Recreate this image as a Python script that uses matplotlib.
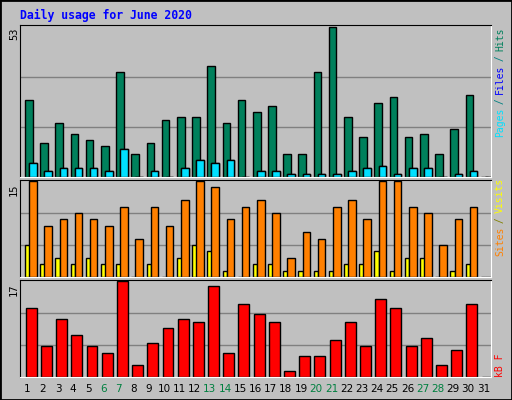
import numpy as np
from matplotlib import pyplot as plt
from matplotlib.patches import Rectangle

days = np.arange(1, 32)
hits = [27, 12, 19, 15, 13, 11, 37, 8, 12, 20, 21, 21, 39, 19, 27, 23, 25, 8, 8, 37,
        53, 21, 14, 26, 28, 14, 15, 8, 17, 29, 0]
files = [5, 2, 3, 3, 3, 2, 10, 0, 2, 0, 3, 6, 5, 6, 0, 2, 2, 1, 1, 1,
         1, 2, 3, 4, 1, 3, 3, 0, 1, 2, 0]
pages = files
visits = [15, 8, 9, 10, 9, 8, 11, 6, 11, 8, 12, 15, 14, 9, 11, 12, 10, 3, 7, 6,
          11, 12, 9, 15, 15, 11, 10, 5, 9, 11, 0]
sites = [5, 2, 3, 2, 3, 2, 2, 0, 2, 0, 3, 5, 4, 1, 0, 2, 2, 1, 1, 1,
         1, 2, 2, 4, 1, 3, 3, 0, 1, 2, 0]
kbytes = [12.3, 5.4, 10.3, 7.5, 5.4, 4.3, 17, 2.2, 6.0, 8.6, 10.3, 9.8, 16.1, 4.3, 12.9,
          11.2, 9.8, 1.1, 3.7, 3.7, 6.5, 9.8, 5.4, 13.8, 12.3, 5.4, 6.9, 2.2, 4.8, 12.9, 0]
weekend = [6, 7, 13, 14, 20, 21, 27, 28]

W, H = 512, 400
BG = "#C0C0C0"
fig = plt.figure(figsize=(5.12, 4.0), dpi=100, facecolor=BG)
fig.patches.append(Rectangle((0, 0), 1, 1, transform=fig.transFigure, fill=False,
                             edgecolor="black", lw=2))
mono = "DejaVu Sans Mono"


def px(x0, y0, x1, y1):
    return [x0 / W, 1 - y1 / H, (x1 - x0) / W, (y1 - y0) / H]


def panel(rect, ymax):
    ax = fig.add_axes(px(*rect))
    ax.set_facecolor(BG)
    ax.set_xlim(0.5, 31.5)
    ax.set_ylim(0, ymax * 1.01)
    for f in (1 / 3, 2 / 3):
        ax.axhline(ymax * f, color="#808080", lw=1, zorder=0)
    ax.set_xticks([])
    ax.set_yticks([])
    for s in ("top", "left"):
        ax.spines[s].set_color("black")
    for s in ("bottom", "right"):
        ax.spines[s].set_color("white")
    return ax


def side_label(x, ybottom, parts):
    y = ybottom
    for txt, col in parts:
        fig.text(x / W, 1 - y / H, txt, color=col, rotation=90, family=mono,
                 fontsize=7, ha="center", va="bottom")
        y -= len(txt) * 5.4


fig.text(20 / W, 1 - 15 / H, "Daily usage for June 2020", color="#0000FF",
         family=mono, fontweight="bold", fontsize=8.3, va="center")

# hits / files / pages
ax1 = panel((20, 25, 491, 177), 53)
ax1.bar(days - 0.5 + 0.33, hits, width=0.5, align="edge", color="#00805C", edgecolor="black", lw=1)
ax1.bar(days - 0.5 + 0.6, files, width=0.5, align="edge", color="#0000FF", edgecolor="black", lw=1)
ax1.bar(days - 0.5 + 0.6, pages, width=0.5, align="edge", color="#00E0FF", edgecolor="black", lw=1)
fig.text(14 / W, 1 - 28 / H, "53", rotation=90, family=mono, fontsize=7.5, ha="center", va="top")
side_label(500, 137, [("Pages", "#00E0FF"), (" / ", "#008080"), ("Files", "#0000FF"),
                      (" / ", "#008080"), ("Hits", "#00805C")])

# sites / visits
ax2 = panel((20, 180, 491, 277), 15)
ax2.bar(days - 0.5 + 0.33, sites, width=0.3, align="edge", color="#FFFF00", edgecolor="black", lw=1)
ax2.bar(days - 0.5 + 0.6, visits, width=0.5, align="edge", color="#FF8000", edgecolor="black", lw=1)
fig.text(14 / W, 1 - 183 / H, "15", rotation=90, family=mono, fontsize=7.5, ha="center", va="top")
side_label(500, 256, [("Sites", "#FF8000"), (" / ", "#808000"), ("Visits", "#FFFF00")])

# kbytes
ax3 = panel((20, 280, 491, 377), 17)
ax3.bar(days - 0.5 + 0.38, kbytes, width=0.72, align="edge", color="#FF0000", edgecolor="black", lw=1)
fig.text(14 / W, 1 - 283 / H, "17", rotation=90, family=mono, fontsize=7.5, ha="center", va="top")
side_label(500, 377, [("kB F", "#FF0000")])

for d in days:
    x = 20 + (d - 0.5) * 471 / 31
    fig.text(x / W, 1 - 389 / H, str(d), ha="center", va="center", fontsize=7.5,
             color="#008040" if d in weekend else "black")

fig.savefig("out.png", dpi=100, facecolor=BG)
